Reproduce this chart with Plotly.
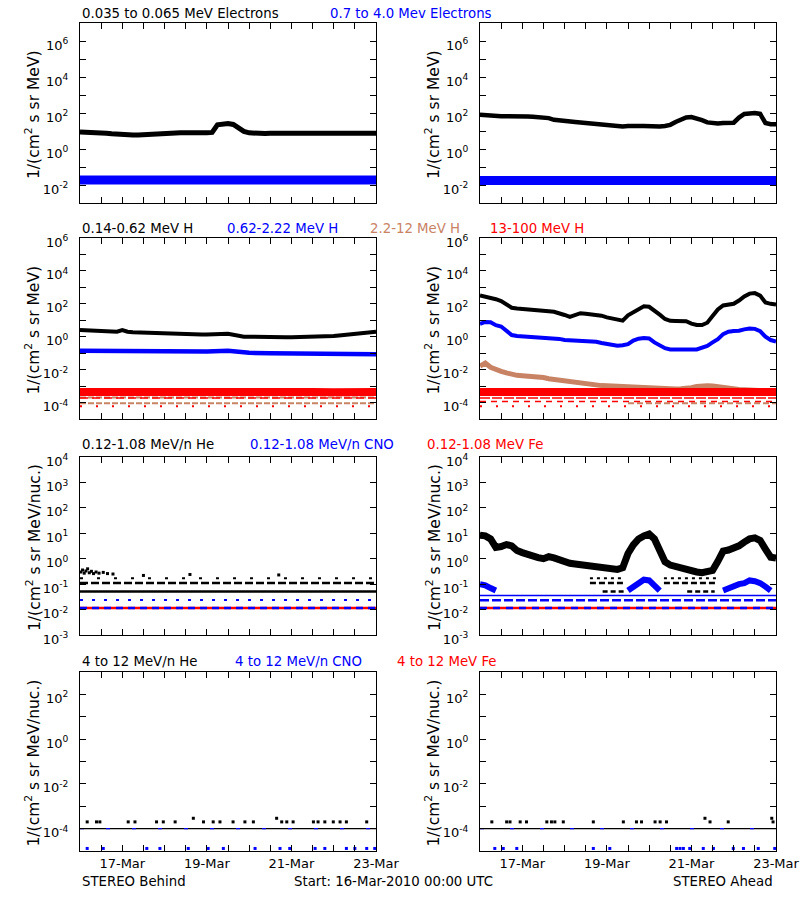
import pandas as pd
import plotly.graph_objects as go

# ---------------- time base ----------------
START = pd.Timestamp("2010-03-16 00:00")
END = pd.Timestamp("2010-03-23 00:00")
T3 = pd.date_range(START, END, freq="3h")    # 57 samples, 3-hourly
T12 = pd.date_range(START, END, freq="12h")  # 15 samples, 12-hourly

def days(ds):
    return [START + pd.Timedelta(days=d) for d in ds]

# ---------------- data ----------------
# Row 1: electrons, 1/(cm2 s sr MeV)
beh_e_low = [8.9, 8.9, 8.5, 8.3, 7.9, 7.6, 7.1, 6.6, 6.3, 6.3, 6.0, 6.0, 6.3, 6.3, 6.6, 6.8,
             7.1, 7.2, 7.6, 7.9, 7.9, 8.3, 8.3, 7.9, 7.9, 8.3, 22, 25, 26, 23, 14, 9.5,
             7.9, 7.4, 7.3, 7.2, 7.4, 7.3, 7.5, 7.4, 7.3, 7.2, 7.4, 7.5, 7.4, 7.3, 7.4, 7.5,
             7.6, 7.4, 7.3, 7.4, 7.5, 7.4, 7.5, 7.6, 7.5]
beh_e_high = [0.019, 0.018, 0.019, 0.019, 0.018, 0.019, 0.019, 0.020, 0.019, 0.019, 0.018,
              0.019, 0.019, 0.019, 0.019]
ahd_e_low = [79, 74, 71, 68, 66, 66, 63, 63, 63, 63, 62, 60, 58, 52, 42, 38, 36, 33, 32, 30,
             28, 27, 25, 23, 21, 19, 19, 18, 19, 18, 19, 19, 18, 19, 18, 19, 22, 32, 45, 56,
             59, 52, 40, 30, 26, 26, 28, 28, 29, 56, 89, 95, 100, 89, 28, 24, 24]
ahd_e_high = [0.018, 0.018, 0.019, 0.018, 0.018, 0.019, 0.018, 0.018, 0.019, 0.018, 0.018,
              0.018, 0.019, 0.018, 0.018]

# Row 2: protons
beh_h1 = [2.6, 2.5, 2.4, 2.3, 2.2, 2.1, 2.0, 2.0, 2.5, 2.0, 1.86, 1.8, 1.78, 1.74, 1.7, 1.66,
          1.58, 1.55, 1.5, 1.48, 1.45, 1.41, 1.41, 1.38, 1.38, 1.41, 1.45, 1.48, 1.51, 1.32,
          1.07, 1.0, 1.0, 0.97, 0.96, 0.95, 0.95, 0.94, 0.95, 0.93, 0.94, 0.95, 0.93, 0.94,
          0.95, 0.96, 0.95, 1.0, 1.1, 1.2, 1.3, 1.4, 1.45, 1.5, 1.6, 1.75, 2.0]
beh_h2 = [0.14, 0.135, 0.13, 0.13, 0.126, 0.125, 0.125, 0.14, 0.105, 0.1, 0.1, 0.095, 0.093,
          0.091, 0.087]
beh_h3 = [3.6e-4, 3.5e-4, 3.6e-4, 3.5e-4, 3.6e-4, 3.5e-4, 3.6e-4, 3.7e-4, 3.5e-4, 3.6e-4,
          3.5e-4, 3.6e-4, 3.5e-4, 3.6e-4, 3.5e-4]
beh_h4 = [4.3e-4, 4.4e-4, 4.3e-4, 4.2e-4, 4.3e-4, 4.4e-4, 4.3e-4, 4.3e-4, 4.2e-4, 4.3e-4,
          4.4e-4, 4.3e-4, 4.2e-4, 4.3e-4, 4.4e-4]
ahd_h1 = [324, 282, 240, 191, 148, 95, 58, 52, 48, 43, 39, 37, 35, 35, 33, 28, 21, 16, 20, 27,
          25, 23, 21, 19, 15, 12.6, 10.5, 9.5, 20, 30, 45, 71, 66, 40, 22, 12, 9.3, 9.1, 8.9,
          8.7, 6.3, 5.2, 5.1, 7.1, 18, 45, 79, 89, 100, 158, 282, 417, 447, 316, 120, 100, 91]
ahd_h2 = [6.0, 7.9, 7.6, 5.0, 4.2, 2.2, 1.26, 1.1, 1.05, 1.02, 1.0, 0.98, 0.95, 0.91, 0.87,
          0.74, 0.63, 0.6, 0.58, 0.56, 0.56, 0.52, 0.5, 0.42, 0.35, 0.32, 0.28, 0.3, 0.35,
          0.58, 0.76, 0.83, 0.79, 0.45, 0.28, 0.2, 0.17, 0.166, 0.158, 0.158, 0.17, 0.17,
          0.21, 0.28, 0.45, 0.71, 1.45, 2.0, 2.2, 2.3, 2.8, 3.2, 3.0, 2.2, 1.0, 0.63, 0.51]
ahd_h3 = [0.0166, 0.025, 0.014, 0.01, 0.0079, 0.0063, 0.005, 0.0045, 0.0042, 0.004, 0.004,
          0.0038, 0.0033, 0.0028, 0.0025, 0.0023, 0.0021, 0.0019, 0.0017, 0.0015, 0.0014,
          0.00126, 0.00115, 0.00107, 0.00105, 0.001, 0.001, 0.00095, 0.00091, 0.00087,
          0.00083, 0.00079, 0.00076, 0.00072, 0.0007, 0.00068, 0.00066, 0.00066, 0.00068,
          0.0007, 0.00079, 0.00095, 0.00105, 0.00105, 0.001, 0.00089, 0.00076, 0.00069,
          0.00066, 0.00063, 0.0006, 0.00058, 0.00055, 0.00052, 0.0005, 0.00048, 0.00047]
ahd_h4 = [4.3e-4, 4.2e-4, 4.3e-4, 4.4e-4, 4.3e-4, 4.2e-4, 4.3e-4, 4.3e-4, 4.4e-4, 4.3e-4,
          4.2e-4, 4.3e-4, 4.3e-4, 4.4e-4, 4.3e-4]

# Row 3: 0.12-1.08 MeV/n ions (Ahead has real time profiles)
ahd_he = [8.3, 7.9, 6.0, 2.8, 3.0, 3.6, 3.2, 2.1, 1.74, 1.45, 1.2, 1.1, 1.0, 1.2, 1.07, 0.89,
          0.72, 0.66, 0.62, 0.58, 0.55, 0.51, 0.49, 0.46, 0.42, 0.38, 0.38, 0.44, 1.6, 3.5,
          6.0, 7.9, 9.3, 6.0, 2.0, 0.76, 0.56, 0.48, 0.42, 0.37, 0.33, 0.3, 0.28, 0.32, 0.35,
          0.79, 2.0, 2.2, 2.5, 3.2, 4.5, 6.0, 6.6, 5.2, 2.4, 1.15, 1.07]
ahd_cno = [0.1, 0.09, 0.07, 0.056, None, None, None, None, None, None, None, None, None, None,
           None, None, None, None, None, None, None, None, None, None, None, None, None, None,
           0.056, 0.08, 0.11, 0.15, 0.14, 0.08, 0.056, None, None, None, None, None, None,
           None, None, None, None, None, 0.056, 0.07, 0.09, 0.1, 0.11, 0.14, 0.13, 0.11,
           0.08, 0.056, None]
beh_he_scatter_days = [0.02, 0.06, 0.1, 0.14, 0.18, 0.22, 0.27, 0.32, 0.38, 0.45, 0.55, 0.65,
                       0.78, 1.5, 2.6, 4.7]
beh_he_scatter_vals = [0.3, 0.36, 0.27, 0.33, 0.4, 0.28, 0.32, 0.26, 0.3, 0.27, 0.29, 0.26,
                       0.25, 0.22, 0.24, 0.23]

# Quantised count levels: (start day, end day, flux)
beh_low_levels_he = [(0, 7, 0.051), (0, 7, 0.11), (0, 7, 0.17)]
ahd_low_levels_he = [(2.6, 3.4, 0.17), (4.35, 5.6, 0.17), (2.6, 3.4, 0.11), (4.35, 5.6, 0.11),
                     (2.9, 3.4, 0.051), (4.9, 5.55, 0.051)]
beh_low_levels_cno = [(0, 7, 0.024), (0, 7, 0.0115)]
ahd_low_levels_cno = [(0, 7, 0.036), (0, 7, 0.023), (0, 7, 0.0115)]
low_levels_fe = [(0, 7, 0.0115)]
beh_h_levels_brown = [(0, 7, 2.0e-4), (0, 7, 9.0e-5)]
ahd_h_levels_brown = [(3.5, 7, 9.0e-5)]
h_levels_red = [(0, 7, 1.9e-4), (0, 7, 1.15e-4), (0, 7, 6.0e-5)]

# Row 4: 4-12 MeV/n ions
high_floor = [(0, 7, 1.0e-4)]
beh_he4_days = [0.17, 0.39, 0.47, 1.14, 1.3, 1.81, 1.97, 2.25, 2.68, 2.92, 3.15, 3.31, 3.62,
                3.9, 4.1, 4.65, 4.77, 4.89, 5.04, 5.52, 5.63, 5.79, 5.99, 6.15, 6.3, 6.78]
beh_he4_vals = [2e-4, 2e-4, 2e-4, 2e-4, 2e-4, 2e-4, 2e-4, 2e-4, 2.9e-4, 2e-4, 2e-4, 2e-4,
                2e-4, 2e-4, 2e-4, 2.9e-4, 2e-4, 2e-4, 2e-4, 2e-4, 2e-4, 2e-4, 2e-4, 2e-4,
                2e-4, 2e-4]
beh_cno4_days = [0.17, 0.55, 1.58, 1.89, 2.56, 3.03, 3.39, 4.14, 4.73, 4.96, 5.56, 5.79, 6.3,
                 6.5, 6.78, 6.97]
ahd_he4_days = [0.28, 0.63, 0.71, 0.95, 1.1, 1.58, 1.69, 1.77, 1.97, 2.68, 3.39, 3.7, 3.82,
                4.14, 4.26, 4.41, 5.32, 5.44, 5.87, 6.9, 6.93]
ahd_he4_vals = [2e-4, 2e-4, 2e-4, 2e-4, 2e-4, 2e-4, 2e-4, 2e-4, 2e-4, 2e-4, 2e-4, 2e-4, 2e-4,
                2e-4, 2e-4, 2e-4, 2.9e-4, 2e-4, 2e-4, 2.9e-4, 2e-4]
ahd_cno4_days = [0.35, 0.55, 0.87, 2.68, 3.07, 4.65, 4.73, 4.81, 4.96, 5.28, 5.52, 5.99, 6.23,
                 6.58, 6.97]
cno4_dot_value = 1.3e-5

# ---------------- styling ----------------
FONT = "DejaVu Sans"
FS = 13.3
FS_TICK = 13
FS_YT = 15.5
BLACK, BLUE, BROWN, RED = "#000000", "#0000FF", "#C88264", "#FF0000"
W, H = 800, 900
COLS = [(80, 376), (480, 776)]
ROWS = [(23, 203), (238, 419), (457, 635), (672, 851)]
YR = [(-3, 7), (-5, 6), (-3, 4), (-5, 3)]
YLAB = [lambda e: e % 2 == 0, lambda e: e % 2 == 0 and e > -5, lambda e: True,
        lambda e: e % 2 == 0 and e > -5]

fig = go.Figure()


def ax(k):
    return ("x" if k == 0 else f"x{k+1}"), ("y" if k == 0 else f"y{k+1}")


def line(k, x, y, color, width, dash=None):
    xa, ya = ax(k)
    fig.add_trace(go.Scatter(x=x, y=y, mode="lines", xaxis=xa, yaxis=ya,
                             line=dict(color=color, width=width, dash=dash),
                             showlegend=False, hoverinfo="skip", connectgaps=False))


def dots(k, x, y, color, size=3):
    xa, ya = ax(k)
    fig.add_trace(go.Scatter(x=x, y=y, mode="markers", xaxis=xa, yaxis=ya,
                             marker=dict(color=color, size=size, symbol="square"),
                             showlegend=False, hoverinfo="skip", cliponaxis=True))


def levels(k, segs, color, width, dash=None):
    for (d0, d1, v) in segs:
        line(k, days([d0, d1]), [v, v], color, width, dash)


# Panel 0: Behind electrons
line(0, T3, beh_e_low, BLACK, 5)
line(0, T12, beh_e_high, BLUE, 9)
# Panel 1: Ahead electrons
line(1, T3, ahd_e_low, BLACK, 4.5)
line(1, T12, ahd_e_high, BLUE, 9)
# Panel 2: Behind protons
line(2, T3, beh_h1, BLACK, 4)
line(2, T12, beh_h2, BLUE, 4.5)
line(2, T12, beh_h3, BROWN, 5)
levels(2, beh_h_levels_brown, BROWN, 2, "6px,2px")
line(2, T12, beh_h4, RED, 8)
levels(2, h_levels_red[:1], RED, 1.5, "8px,4px")
levels(2, h_levels_red[2:], RED, 2, "2px,14px")
# Panel 3: Ahead protons
line(3, T3, ahd_h1, BLACK, 4)
line(3, T3, ahd_h2, BLUE, 4)
line(3, T3, ahd_h3, BROWN, 5)
levels(3, ahd_h_levels_brown, BROWN, 2, "6px,3px")
line(3, T12, ahd_h4, RED, 8)
levels(3, h_levels_red[:1], RED, 1.5, "10px,2px")
levels(3, h_levels_red[1:2], RED, 1.5, "6px,5px")
levels(3, h_levels_red[2:], RED, 2, "2px,14px")
# Panel 4: Behind low-energy ions
levels(4, beh_low_levels_he[:1], BLACK, 2.5)
levels(4, beh_low_levels_he[1:2], BLACK, 2.5, "8px,3px")
levels(4, beh_low_levels_he[2:], BLACK, 2, "3px,14px")
dots(4, days(beh_he_scatter_days), beh_he_scatter_vals, BLACK)
levels(4, beh_low_levels_cno[:1], BLUE, 2, "3px,9px")
levels(4, low_levels_fe, RED, 2.5)
levels(4, beh_low_levels_cno[1:], BLUE, 2.5, "7px,5px")
# Panel 5: Ahead low-energy ions
levels(5, ahd_low_levels_he[:2], BLACK, 2, "3px,4px")
levels(5, ahd_low_levels_he[2:4], BLACK, 2.5, "6px,3px")
levels(5, ahd_low_levels_he[4:], BLACK, 2.5, "5px,3px")
line(5, T3, ahd_he, BLACK, 7)
levels(5, ahd_low_levels_cno[:1], BLUE, 1.5)
levels(5, ahd_low_levels_cno[1:2], BLUE, 2.5, "9px,3px")
line(5, T3, ahd_cno, BLUE, 6)
levels(5, low_levels_fe, RED, 2.5)
levels(5, ahd_low_levels_cno[2:], BLUE, 2.5, "7px,6px")
# Panel 6: Behind 4-12 MeV/n
levels(6, high_floor, BLACK, 1.2)
levels(6, high_floor, BLUE, 1.2, "4px,22px")
dots(6, days(beh_he4_days), beh_he4_vals, BLACK)
dots(6, days(beh_cno4_days), [cno4_dot_value] * len(beh_cno4_days), BLUE)
# Panel 7: Ahead 4-12 MeV/n
levels(7, high_floor, BLACK, 1.2)
levels(7, high_floor, BLUE, 1.2, "4px,26px")
dots(7, days(ahd_he4_days), ahd_he4_vals, BLACK)
dots(7, days(ahd_cno4_days), [cno4_dot_value] * len(ahd_cno4_days), BLUE)

# ---------------- axes ----------------
minor_x = list(pd.date_range(START, END, freq="12h"))
major_x = [pd.Timestamp(d) for d in ("2010-03-17", "2010-03-19", "2010-03-21", "2010-03-23")]
major_x_text = [t.strftime("%d-%b") for t in major_x]

tick_style = dict(ticks="inside", ticklen=6, tickwidth=1, tickcolor="black")
layout = dict(width=W, height=H, autosize=False,
              margin=dict(l=0, r=0, t=0, b=0, pad=0, autoexpand=False),
              paper_bgcolor="white", plot_bgcolor="white", showlegend=False,
              font=dict(family=FONT, size=FS, color="black"))
for k in range(8):
    r, c = divmod(k, 2)
    xa_name = "xaxis" if k == 0 else f"xaxis{k+1}"
    ya_name = "yaxis" if k == 0 else f"yaxis{k+1}"
    xa, ya = ax(k)
    lo, hi = YR[r]
    exps = list(range(lo, hi + 1))
    lab = [e for e in exps if YLAB[r](e)]
    unl = [e for e in exps if not YLAB[r](e)]
    bottom = (r == 3)
    layout[xa_name] = dict(
        domain=[COLS[c][0] / W, COLS[c][1] / W], anchor=ya, type="date",
        range=[START, END], tickmode="array",
        tickvals=major_x if bottom else [], ticktext=major_x_text if bottom else [],
        showticklabels=bottom, **tick_style, automargin=False,
        minor=dict(tickmode="array", tickvals=minor_x, **tick_style),
        showline=True, linecolor="black", linewidth=1,
        mirror="ticks", showgrid=False, zeroline=False,
        tickfont=dict(family=FONT, size=FS_TICK, color="black"))
    layout[ya_name] = dict(
        domain=[1 - ROWS[r][1] / H, 1 - ROWS[r][0] / H], anchor=xa, type="log",
        range=[lo, hi], tickmode="array", tickvals=[10.0 ** e for e in lab],
        ticktext=[f"10<sup>{e}</sup>" for e in lab], **tick_style, automargin=False,
        minor=dict(tickmode="array", tickvals=[10.0 ** e for e in unl], **tick_style),
        showline=True, linecolor="black", linewidth=1, mirror="ticks",
        showgrid=False, zeroline=False, ticklabelstandoff=8, ticklabelshift=4,
        tickfont=dict(family=FONT, size=FS_TICK, color="black"))
fig.update_layout(**layout)

# ---------------- text ----------------
def note(text, x, y, color=BLACK, anchor="left", angle=0, size=FS):
    fig.add_annotation(text=text, x=x / W, y=1 - y / H, xref="paper", yref="paper",
                       xanchor=anchor, yanchor="middle", showarrow=False, textangle=angle,
                       font=dict(family=FONT, size=size, color=color))

titles = [
    (13, [("0.035 to 0.065 MeV Electrons", 80, BLACK), ("0.7 to 4.0 Mev Electrons", 328, BLUE)]),
    (228, [("0.14-0.62 MeV H", 80, BLACK), ("0.62-2.22 MeV H", 225, BLUE),
           ("2.2-12 MeV H", 368, BROWN), ("13-100 MeV H", 488, RED)]),
    (444, [("0.12-1.08 MeV/n He", 80, BLACK), ("0.12-1.08 MeV/n CNO", 248, BLUE),
           ("0.12-1.08 MeV Fe", 425, RED)]),
    (661, [("4 to 12 MeV/n He", 80, BLACK), ("4 to 12 MeV/n CNO", 233, BLUE),
           ("4 to 12 MeV Fe", 395, RED)]),
]
for y, items in titles:
    for text, x, col in items:
        note(text, x, y, col)

ytitles = ["1/(cm<sup>2</sup> s sr MeV)", "1/(cm<sup>2</sup> s sr MeV)",
           "1/(cm<sup>2</sup> s sr MeV/nuc.)", "1/(cm<sup>2</sup> s sr MeV/nuc.)"]
for r in range(4):
    yc = (ROWS[r][0] + ROWS[r][1]) / 2 + 2
    note(ytitles[r], 33, yc, anchor="center", angle=-90, size=FS_YT)
    note(ytitles[r], 433, yc, anchor="center", angle=-90, size=FS_YT)

note("STEREO Behind", 80, 881)
note("Start: 16-Mar-2010 00:00 UTC", 292, 881)
note("STEREO Ahead", 775, 881, anchor="right")

pin_page = ("var gd=document.getElementById('{plot_id}');"
            "document.documentElement.style.margin='0';"
            "document.documentElement.style.overflow='hidden';"
            "document.body.style.margin='0';document.body.style.overflow='hidden';"
            "gd.style.position='absolute';gd.style.left='0px';gd.style.top='0px';"
            "gd.style.width='800px';gd.style.height='900px';")
fig.write_html("out.html", post_script=pin_page,
               config={"responsive": False, "displayModeBar": False})
